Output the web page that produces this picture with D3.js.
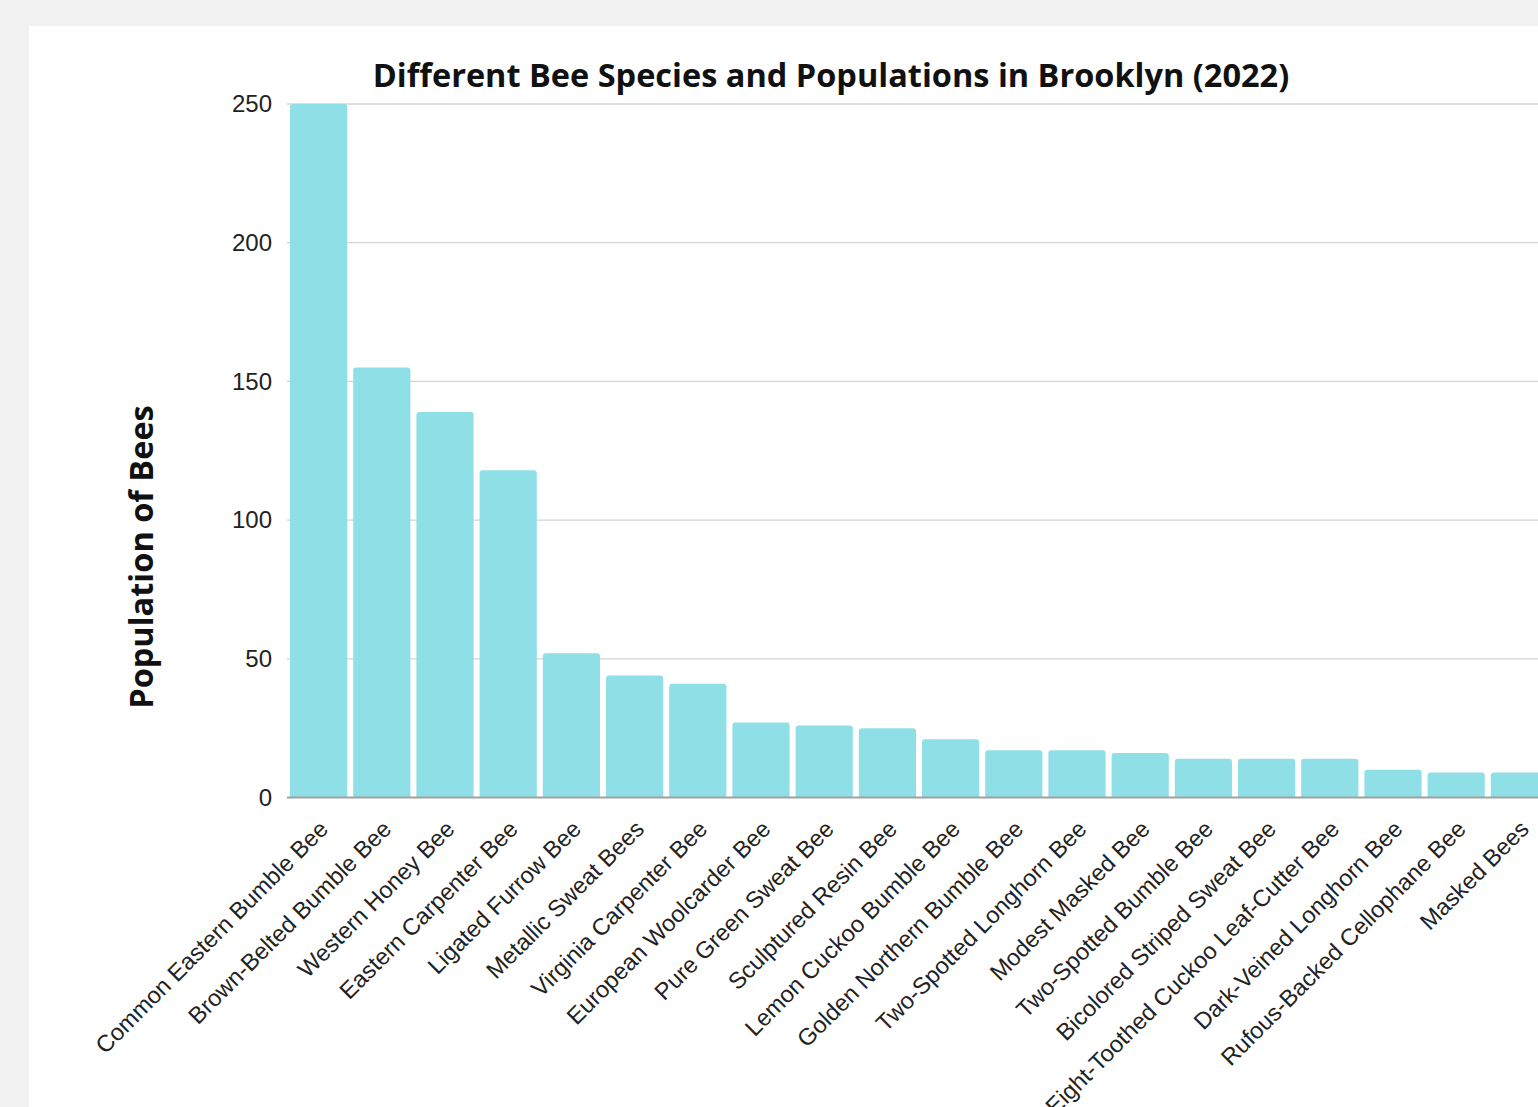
<!DOCTYPE html>
<html>
<head>
<meta charset="utf-8">
<script src="https://cdn.jsdelivr.net/npm/d3@7"></script>
<style>
  html, body { margin: 0; padding: 0; background: #f2f2f2; overflow: hidden; }
  svg { display: block; }
</style>
</head>
<body>
<svg id="chart" width="1538" height="1107"></svg>
<script>
const species = [
  "Common Eastern Bumble Bee",
  "Brown-Belted Bumble Bee",
  "Western Honey Bee",
  "Eastern Carpenter Bee",
  "Ligated Furrow Bee",
  "Metallic Sweat Bees",
  "Virginia Carpenter Bee",
  "European Woolcarder Bee",
  "Pure Green Sweat Bee",
  "Sculptured Resin Bee",
  "Lemon Cuckoo Bumble Bee",
  "Golden Northern Bumble Bee",
  "Two-Spotted Longhorn Bee",
  "Modest Masked Bee",
  "Two-Spotted Bumble Bee",
  "Bicolored Striped Sweat Bee",
  "Eight-Toothed Cuckoo Leaf-Cutter Bee",
  "Dark-Veined Longhorn Bee",
  "Rufous-Backed Cellophane Bee",
  "Masked Bees"
];
const populations = [250, 155, 139, 118, 52, 44, 41, 27, 26, 25, 21, 17, 17, 16, 14, 14, 14, 10, 9, 9];
const yTicks = [0, 50, 100, 150, 200, 250];
const chartTitle = "Different Bee Species and Populations in Brooklyn (2022)";
const yTitle = "Population of Bees";

const svg = d3.select("#chart");

// white panel
svg.append("rect").attr("x", 29).attr("y", 26).attr("width", 1538 - 29).attr("height", 1107 - 26).attr("fill", "#ffffff");

const plotLeft = 287, plotTop = 104, plotBottom = 797.5;
const x = d3.scaleBand().domain(species).range([plotLeft, plotLeft + 1264]).paddingInner(0.095).paddingOuter(0.0475);
const y = d3.scaleLinear().domain([0, 250]).range([plotBottom, plotTop]);

// gridlines
svg.append("g").selectAll("line").data(yTicks.filter(d => d > 0)).join("line")
  .attr("x1", plotLeft).attr("x2", 1538)
  .attr("y1", d => y(d)).attr("y2", d => y(d))
  .attr("stroke", "#d4d4d4").attr("stroke-width", 1.3);

// bars with slightly rounded top corners
const r = 3;
svg.append("g").selectAll("path").data(populations).join("path")
  .attr("fill", "#8ee0e6")
  .attr("d", (d, i) => {
    const x0 = x(species[i]), w = x.bandwidth(), y0 = y(d), yb = y(0);
    return `M${x0},${yb} V${y0 + r} Q${x0},${y0} ${x0 + r},${y0} H${x0 + w - r} Q${x0 + w},${y0} ${x0 + w},${y0 + r} V${yb} Z`;
  });

// baseline
svg.append("line").attr("x1", plotLeft).attr("x2", 1538).attr("y1", y(0)).attr("y2", y(0))
  .attr("stroke", "#a0a0a0").attr("stroke-width", 2);

// y axis
const yAxis = d3.axisLeft(y).tickValues(yTicks).tickSize(0).tickPadding(15);
const yg = svg.append("g").attr("transform", `translate(${plotLeft},0)`).call(yAxis);
yg.select(".domain").remove();
yg.selectAll("text").attr("font-family", "'Liberation Sans', Arial, sans-serif").attr("font-size", 24).attr("fill", "#222");

// x axis labels
const xAxis = d3.axisBottom(x).tickSize(0).tickPadding(0);
const xg = svg.append("g").attr("transform", `translate(0,${plotBottom})`).call(xAxis);
xg.select(".domain").remove();
xg.selectAll("text")
  .attr("font-family", "'Liberation Sans', Arial, sans-serif").attr("font-size", 23.5).attr("fill", "#222")
  .attr("text-anchor", "end")
  .attr("dy", 0)
  .attr("transform", "translate(11,33) rotate(-45)");

// title
svg.append("text").attr("x", 831).attr("y", 87).attr("text-anchor", "middle")
  .attr("font-family", "'Open Sans', sans-serif").attr("font-weight", 700).attr("font-size", 32.5).attr("fill", "#111")
  .text(chartTitle);

// y title
svg.append("text").attr("transform", "translate(153,557) rotate(-90)").attr("text-anchor", "middle")
  .attr("font-family", "'Open Sans', sans-serif").attr("font-weight", 700).attr("font-size", 32.5).attr("fill", "#111")
  .text(yTitle);
</script>
</body>
</html>
